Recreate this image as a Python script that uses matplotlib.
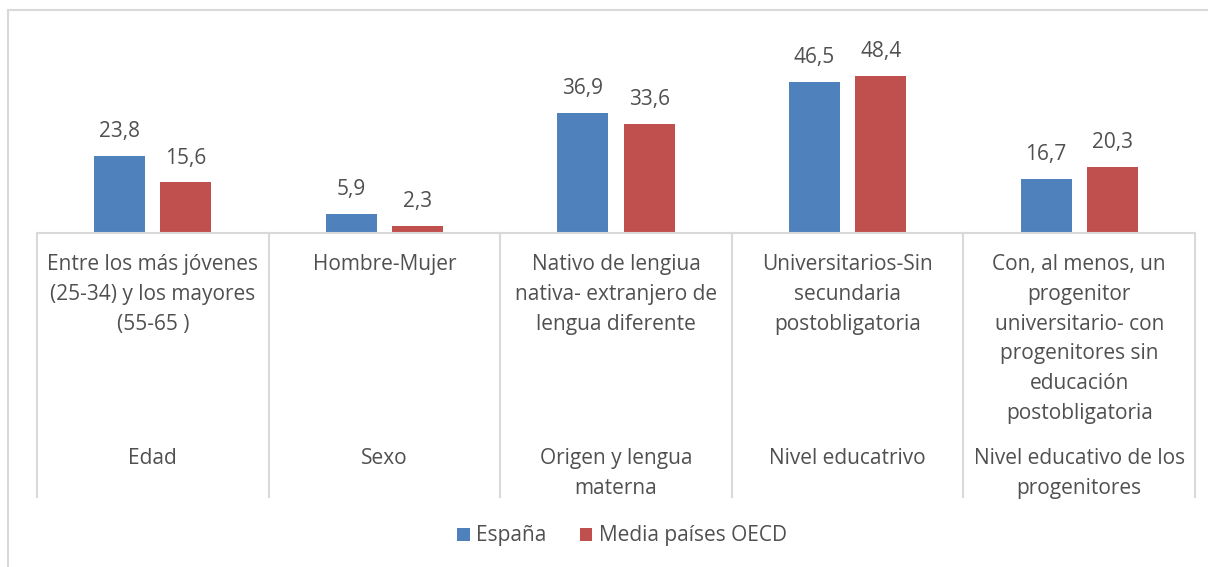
import matplotlib
matplotlib.use("Agg")
import matplotlib.pyplot as plt
from matplotlib.patches import Rectangle
from matplotlib.lines import Line2D
import numpy as np

plt.rcParams['font.family'] = ['Open Sans', 'DejaVu Sans']

sub_labels = [
    "Entre los más jóvenes\n(25-34) y los mayores\n(55-65 )",
    "Hombre-Mujer",
    "Nativo de lengiua\nnativa- extranjero de\nlengua diferente",
    "Universitarios-Sin\nsecundaria\npostobligatoria",
    "Con, al menos, un\nprogenitor\nuniversitario- con\nprogenitores sin\neducación\npostobligatoria",
]
group_labels = ["Edad", "Sexo", "Origen y lengua\nmaterna", "Nivel educatrivo",
                "Nivel educativo de los\nprogenitores"]
espana = [23.8, 5.9, 36.9, 46.5, 16.7]
oecd = [15.6, 2.3, 33.6, 48.4, 20.3]
series_names = ["España", "Media países OECD"]

W, H = 1208, 567
fig = plt.figure(figsize=(W / 100, H / 100), dpi=100)

# outer chart frame
fig.patches.append(Rectangle((8 / W, -0.01), 1.2, 1 - 10 / H + 0.01, transform=fig.transFigure,
                             fill=False, edgecolor="#D9D9D9", linewidth=1.5))

ax_left, ax_right = 37 / W, 1195 / W
ax_bottom, ax_top = 1 - 233 / H, 1 - 38 / H
ax = fig.add_axes([ax_left, ax_bottom, ax_right - ax_left, ax_top - ax_bottom])

n = len(espana)
x = np.arange(n)
bw = 0.22
off = 0.143
blue, red = "#4F81BD", "#C0504D"
b1 = ax.bar(x - off, espana, bw, color=blue, label=series_names[0])
b2 = ax.bar(x + off, oecd, bw, color=red, label=series_names[1])
txtc = "#505050"
FS = 15
for bars, vals in ((b1, espana), (b2, oecd)):
    for r, v in zip(bars, vals):
        ax.annotate(f"{v:.1f}".replace(".", ","), (r.get_x() + r.get_width() / 2, v),
                    xytext=(0, 13.5), textcoords="offset points",
                    ha="center", va="baseline", fontsize=FS, color=txtc)

ax.set_xlim(-0.5, n - 0.5)
ax.set_ylim(0, 60)
ax.axis("off")

# category axis (baseline, separators, labels)
def fx(xd):
    return ax_left + (xd + 0.5) / n * (ax_right - ax_left)

base_y = 1 - 233 / H
sep_bottom = 1 - 497 / H
grey = "#D9D9D9"
fig.add_artist(Line2D([fx(-0.5), fx(n - 0.5)], [base_y, base_y], color=grey, lw=1.5,
                      transform=fig.transFigure))
for i in range(n + 1):
    xx = fx(i - 0.5)
    fig.add_artist(Line2D([xx, xx], [sep_bottom, base_y], color=grey, lw=1.5,
                          transform=fig.transFigure))

for i in range(n):
    fig.text(fx(i), 1 - 254 / H, sub_labels[i], ha="center", va="top", fontsize=FS,
             color=txtc, linespacing=1.55)
    fig.text(fx(i), 1 - 448 / H, group_labels[i], ha="center", va="top", fontsize=FS,
             color=txtc, linespacing=1.55)

leg = fig.legend(handles=[b1, b2], loc="center", bbox_to_anchor=(622 / W, 1 - 536 / H),
                 ncol=2, frameon=False, fontsize=FS, handlelength=0.6, handleheight=0.6,
                 handletextpad=0.3, columnspacing=1.6)
for t in leg.get_texts():
    t.set_color(txtc)

fig.savefig("out.png", dpi=100)
